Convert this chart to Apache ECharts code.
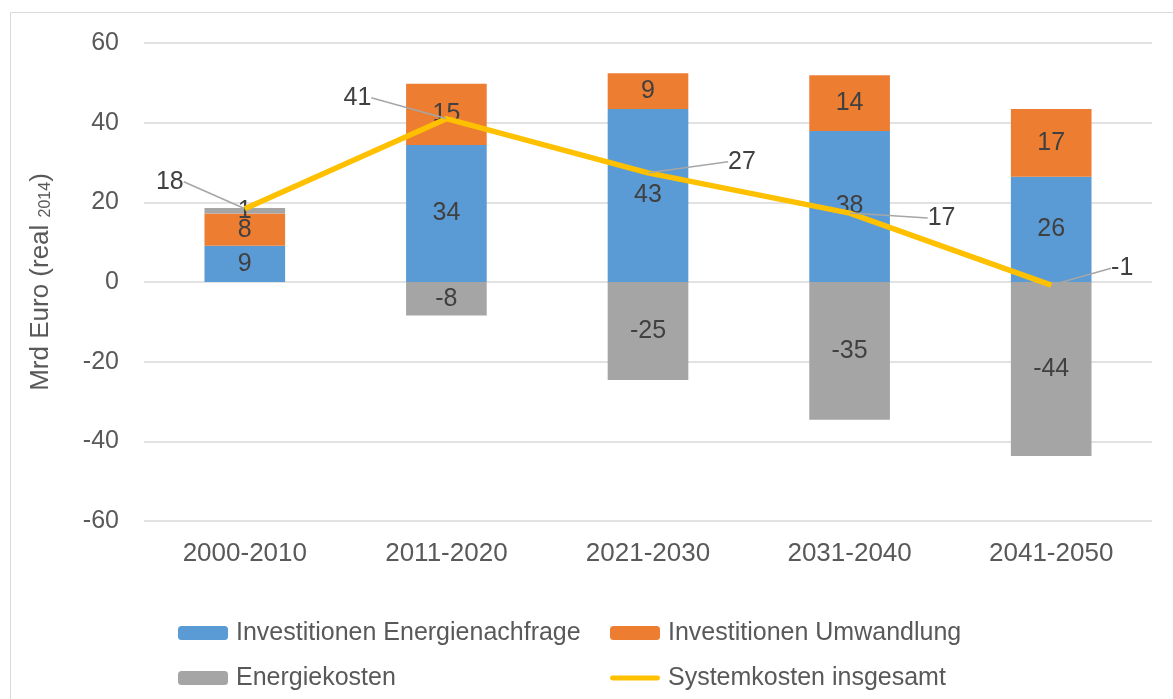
<!DOCTYPE html>
<html>
<head>
<meta charset="utf-8">
<script src="https://cdn.jsdelivr.net/npm/echarts@6/dist/echarts.min.js"></script>
<style>
  html, body { margin: 0; padding: 0; background: #fff; }
  #chart { width: 1173px; height: 699px; }
</style>
</head>
<body>
<div id="chart"></div>
<script>
// Zeitraeume und Werte (Mrd Euro, real 2014)
const categories = ['2000-2010', '2011-2020', '2021-2030', '2031-2040', '2041-2050'];
const investNachfrage = [9.1, 34.4, 43.4, 37.9, 26.4];
const investUmwandlung = [8.1, 15.4, 9.0, 14.0, 17.0];
const energiekosten = [1.4, -8.4, -24.6, -34.6, -43.7];
const systemkosten = [18.4, 41.0, 27.4, 17.3, -0.8];
const yTicks = { min: -60, max: 60, interval: 20 };

// Position der Beschriftungen der Linie (Abstand zum Punkt)
const lineLabelOffsets = [[-75, -27], [-89, -21], [94, -11], [92, 5], [71, -17]];

const FONT = 'Liberation Sans, Arial, sans-serif';
const textColor = '#595959';
const labelColor = '#404040';

const chart = echarts.init(document.getElementById('chart'));

const barLabel = {
  show: true,
  position: 'inside',
  fontFamily: FONT,
  fontSize: 25,
  color: labelColor,
  formatter: (p) => Math.round(p.value),
};

const legendText = {
  fontFamily: FONT,
  fontSize: 25,
  lineHeight: 26,
  color: textColor,
  padding: [0, 0, 0, 3],
};

const option = {
  animation: false,
  backgroundColor: '#fff',
  graphic: [
    {
      type: 'rect',
      shape: { x: 10.5, y: 12.5, width: 1300, height: 800 },
      style: { fill: 'none', stroke: '#d9d9d9', lineWidth: 1 },
      silent: true,
    },
  ],
  grid: { left: 144, right: 21, top: 43, bottom: 178 },
  legend: [
    { left: 173, top: 615, data: ['Investitionen Energienachfrage'] },
    { left: 605, top: 615, data: ['Investitionen Umwandlung'] },
    { left: 173, top: 660, data: ['Energiekosten'] },
    {
      left: 605,
      top: 660,
      data: [{ name: 'Systemkosten insgesamt', icon: 'path://M2,0 L48,0 A2.5,2.5 0 0 1 48,5 L2,5 A2.5,2.5 0 0 1 2,0 Z' }],
    },
  ].map((l) => ({
    ...l,
    itemWidth: 50,
    itemHeight: 14,
    textStyle: legendText,
  })),
  xAxis: {
    type: 'category',
    data: categories,
    axisLine: { show: false },
    axisTick: { show: false },
    axisLabel: { fontFamily: FONT, fontSize: 26, color: textColor, margin: 20 },
  },
  yAxis: {
    type: 'value',
    min: yTicks.min,
    max: yTicks.max,
    interval: yTicks.interval,
    axisLine: { show: false },
    axisTick: { show: false },
    splitLine: { lineStyle: { color: '#d9d9d9', width: 1.5 } },
    axisLabel: { fontFamily: FONT, fontSize: 25, color: textColor, margin: 25 },
    name: '{a|Mrd Euro (real }{b|2014}{a|)}',
    nameLocation: 'middle',
    nameGap: 90,
    nameRotate: 90,
    nameTextStyle: {
      rich: {
        a: { fontFamily: FONT, fontSize: 26, color: textColor },
        b: { fontFamily: FONT, fontSize: 16, color: textColor, padding: [10, 0, 0, 0] },
      },
    },
  },
  series: [
    {
      name: 'Investitionen Energienachfrage',
      type: 'bar',
      stack: 'total',
      barWidth: '40%',
      data: investNachfrage,
      itemStyle: { color: '#5b9bd5' },
      label: barLabel,
    },
    {
      name: 'Investitionen Umwandlung',
      type: 'bar',
      stack: 'total',
      data: investUmwandlung,
      itemStyle: { color: '#ed7d31' },
      label: barLabel,
    },
    {
      name: 'Energiekosten',
      type: 'bar',
      stack: 'total',
      data: energiekosten,
      itemStyle: { color: '#a5a5a5' },
      label: barLabel,
    },
    {
      name: 'Systemkosten insgesamt',
      type: 'line',
      data: systemkosten,
      symbol: 'circle',
      symbolSize: 1,
      showSymbol: true,
      z: 5,
      lineStyle: { color: '#ffc000', width: 5.5 },
      itemStyle: { color: '#ffc000' },
      label: {
        show: true,
        position: 'inside',
        fontFamily: FONT,
        fontSize: 25,
        color: labelColor,
        formatter: (p) => Math.round(p.value),
      },
      labelLine: { show: true, lineStyle: { color: '#a6a6a6', width: 1.5 } },
      labelLayout: (params) => {
        const off = lineLabelOffsets[params.dataIndex];
        return { dx: off[0], dy: off[1] };
      },
    },
  ],
};

chart.setOption(option);
</script>
</body>
</html>
